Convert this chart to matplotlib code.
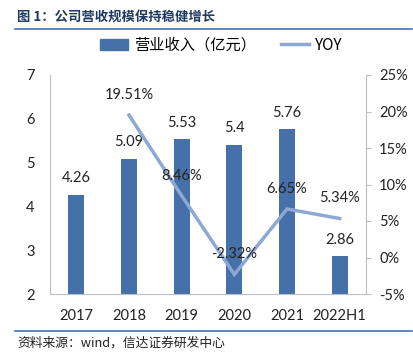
import matplotlib.pyplot as plt
from matplotlib.lines import Line2D
from matplotlib.patches import Patch

years = ["2017", "2018", "2019", "2020", "2021", "2022H1"]
revenue = [4.26, 5.09, 5.53, 5.4, 5.76, 2.86]
yoy_years = ["2018", "2019", "2020", "2021", "2022H1"]
yoy = [19.51, 8.46, -2.32, 6.65, 5.34]

bar_color = "#4570A8"
line_color = "#8EA8D6"
spine_color = "#BFBFBF"
num_font = ["Lato", "Noto Sans CJK SC"]
cjk_font = ["Noto Sans CJK SC", "DejaVu Sans"]

fig = plt.figure(figsize=(4.14, 3.64), dpi=100)
ax = fig.add_axes([50 / 414, 1 - 294 / 364, 316 / 414, 219 / 364])
ax2 = ax.twinx()

x = list(range(len(years)))
ax.bar(x, revenue, width=0.3, color=bar_color, zorder=2)
for xi, v in zip(x, revenue):
    ax.annotate(f"{v:g}", (xi, v), xytext=(0, 12), textcoords="offset points",
                ha="center", va="center", fontsize=10.5, family=num_font, color="#222222")

lx = [years.index(y) for y in yoy_years]
ax2.plot(lx, yoy, color=line_color, lw=2.5, solid_joinstyle="miter")
for xi, v in zip(lx, yoy):
    ax2.annotate(f"{v:.2f}%", (xi, v), xytext=(0, 14.5), textcoords="offset points",
                 ha="center", va="center", fontsize=10.5, family=num_font, color="#222222")

ax.set_xlim(-0.5, len(years) - 0.5)
ax.set_ylim(2, 7)
ax.set_yticks(range(2, 8))
ax2.set_ylim(-5, 25)
ax2.set_yticks(range(-5, 26, 5))
ax2.set_yticklabels([f"{t}%" for t in range(-5, 26, 5)])
ax.set_xticks(x)
ax.set_xticklabels(years)

for a in (ax, ax2):
    for s in a.spines.values():
        s.set_color(spine_color)
    a.spines["top"].set_visible(False)
ax.spines["right"].set_visible(False)
ax2.spines["left"].set_visible(False)
ax2.spines["bottom"].set_visible(False)

ax.tick_params(axis="x", length=0, pad=11)
ax.tick_params(axis="y", length=0, pad=11)
ax2.tick_params(axis="y", length=3.5, color=spine_color, pad=6)
for lab in ax.get_xticklabels() + ax.get_yticklabels() + ax2.get_yticklabels():
    lab.set_family(num_font)
    lab.set_fontsize(10.5)
    lab.set_color("#222222")

handles = [Patch(color=bar_color), Line2D([], [], color=line_color, lw=2.5)]
fig.legend(handles, ["营业收入（亿元）", "YOY"], loc="center", bbox_to_anchor=(0.535, 0.876),
           ncol=2, frameon=False, handlelength=1.85, columnspacing=1.6, handletextpad=0.4,
           prop={"family": cjk_font, "size": 11})

fig.text(17 / 414, 1 - 17 / 364, "图 1：公司营收规模保持稳健增长", ha="left", va="center",
         fontsize=9.6, fontweight="bold", color="#1F3A60", family=cjk_font)
fig.add_artist(Line2D([15 / 414, 412 / 414], [1 - 29 / 364] * 2, color="#4A72B4", lw=1.2))
fig.add_artist(Line2D([15 / 414, 412 / 414], [1 - 331 / 364] * 2, color="#4A72B4", lw=1.2))
fig.text(17 / 414, 1 - 343 / 364, "资料来源：wind，信达证券研发中心", ha="left", va="center",
         fontsize=9.2, color="#222222", family=cjk_font)

fig.savefig("out.png", dpi=100)
